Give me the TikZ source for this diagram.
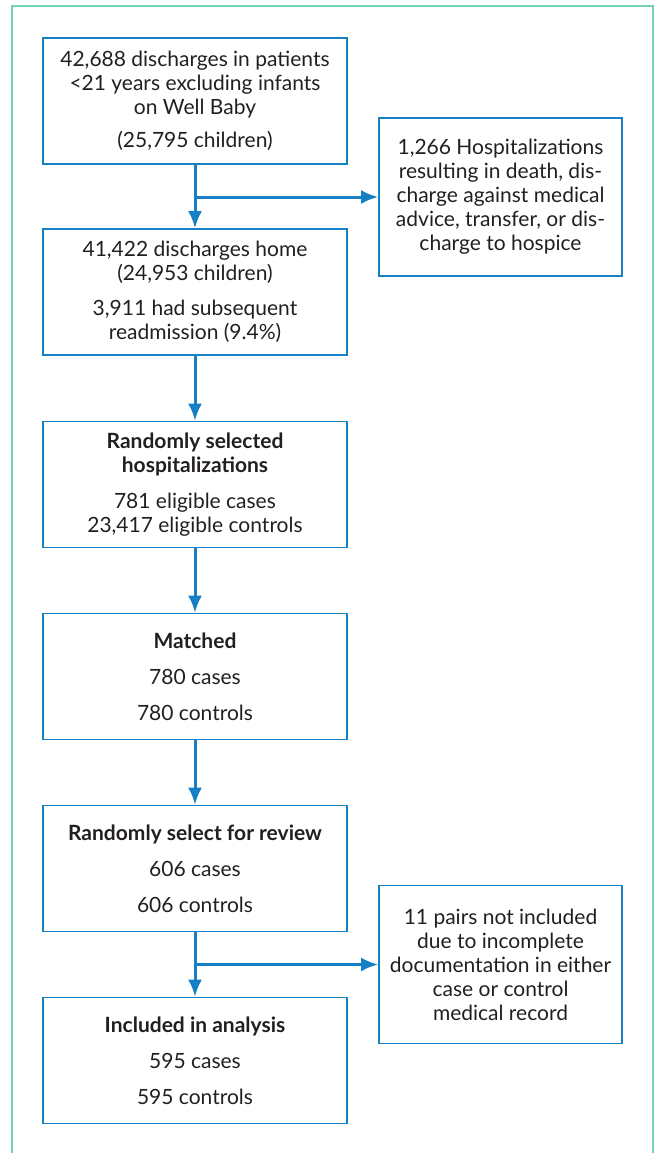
\documentclass[tikz,border=0pt]{standalone}
\usepackage{fontspec}
\setmainfont{Lato}
\usepackage{tikz}
\usetikzlibrary{arrows.meta}
\definecolor{flowblue}{HTML}{1580C3}
\definecolor{framegreen}{HTML}{74D2B6}
\definecolor{inkgray}{HTML}{231F20}

\begin{document}
\begin{tikzpicture}[x=1pt,y={(0,-1pt)}]
  \tikzset{stage/.style={draw=flowblue,line width=1.6pt,minimum width=304pt,minimum height=126pt,
      align=center,text=inkgray,font=\fontsize{21}{24}\selectfont,inner sep=2pt}}
  \tikzset{exclusion/.style={stage,minimum width=243pt,minimum height=158pt}}
  \tikzset{flow/.style={->,>={Latex[length=17pt,width=14pt]},draw=flowblue,line width=3pt}}
  \useasboundingbox (0,0) rectangle (658,1153);
  \draw[framegreen,line width=2pt] (12,1160) -- (12,6) -- (653,6) -- (653,1160);
  \node[stage] (start) at (195,101) {42,688 discharges in patients\\ <21 years excluding infants\\ on Well Baby\\[9pt] (25,795 children)};
  \node[stage] (home) at (195,292) {41,422 discharges home\\ (24,953 children)\\[11pt] 3,911 had subsequent\\ readmission (9.4\%)};
  \node[stage] (random) at (195,484.5) {\textbf{Randomly selected}\\ \textbf{hospitalizations}\\[12pt] 781 eligible cases\\ 23,417 eligible controls};
  \node[stage] (matched) at (195,676.5) {\textbf{Matched}\\[12pt] 780 cases\\[12pt] 780 controls};
  \node[stage] (review) at (195,868.5) {\textbf{Randomly select for review}\\[12pt] 606 cases\\[12pt] 606 controls};
  \node[stage] (analysis) at (195,1060.5) {\textbf{Included in analysis}\\[12pt] 595 cases\\[12pt] 595 controls};
  \node[exclusion] (dropped) at (500.5,197) {1,266 Hospitalizations\\ resulting in death, dis-\\ charge against medical\\ advice, transfer, or dis-\\ charge to hospice};
  \node[exclusion] (unpaired) at (500.5,964.5) {11 pairs not included\\ due to incomplete\\ documentation in either\\ case or control\\ medical record};
  \coordinate (split1) at (195,197);
  \coordinate (split2) at (195,964.5);
  \draw[flow] (start) -- (home);
  \draw[flow] (split1) -- (dropped);
  \draw[flow] (home) -- (random);
  \draw[flow] (random) -- (matched);
  \draw[flow] (matched) -- (review);
  \draw[flow] (review) -- (analysis);
  \draw[flow] (split2) -- (unpaired);
\end{tikzpicture}
\end{document}
